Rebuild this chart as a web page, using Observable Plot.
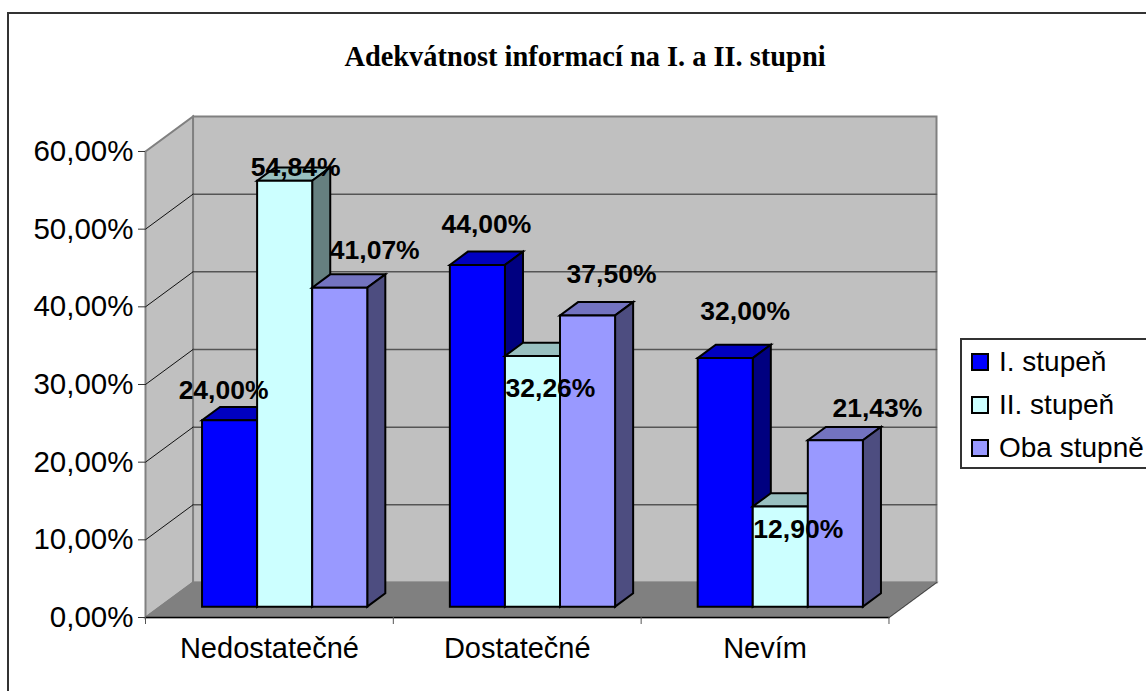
<!DOCTYPE html>
<html lang="cs">
<head>
<meta charset="utf-8">
<script src="https://cdn.jsdelivr.net/npm/d3@7"></script>
<script src="https://cdn.jsdelivr.net/npm/@observablehq/plot@0.6"></script>
<style>
html,body{margin:0;padding:0;background:#fff;overflow:hidden}
#page{position:relative;width:1146px;height:691px;overflow:hidden;font-family:"Liberation Sans",Arial,sans-serif;color:#000}
#page svg{position:absolute;left:0;top:0;background:transparent}
#frame{position:absolute;left:7px;top:12px;width:1200px;height:800px;border:2px solid #333;box-sizing:border-box}
#title{position:absolute;left:0;width:1170px;top:41px;text-align:center;font:bold 28.4px "Liberation Serif","Times New Roman",serif;white-space:nowrap}
#legend{position:absolute;left:960px;top:338px;width:300px;height:131px;box-sizing:border-box;border:2px solid #333;background:#fff}
.row{position:absolute;left:37px;font-size:28px;line-height:32px;white-space:nowrap}
.sw{position:absolute;left:-28px;top:7px;width:18px;height:18px;box-sizing:border-box;border:2px solid #000}
</style>
</head>
<body>
<div id="page">
  <div id="frame"></div>
  <div id="title"></div>
  <div id="plot"></div>
  <div id="legend"></div>
</div>
<script>
// ---- data ----
const titleText = "Adekvátnost informací na I. a II. stupni";
const categories = ["Nedostatečné", "Dostatečné", "Nevím"];
const seriesNames = ["I. stupeň", "II. stupeň", "Oba stupně"];
const stupen1 = [24.00, 44.00, 32.00];
const stupen2 = [54.84, 32.26, 12.90];
const obaStupne = [41.07, 37.50, 21.43];
const yTicks = [0, 10, 20, 30, 40, 50, 60];
const fmt = v => v.toFixed(2).replace(".", ",") + "%";

// ---- colours ----
const frontColors = ["#0000FF", "#CCFFFF", "#9999FF"];
const topColors   = ["#0000C0", "#99C0C0", "#7373C0"];
const sideColors  = ["#000080", "#668080", "#4D4D80"];

// ---- oblique projection (expressed in data units) ----
const catPx = 247.67, pctPx = 7.767;       // pixels per category, per percent
const DX = 47.5 / catPx, DY = 35 / pctPx;  // full depth of the box
const barW = 1 / 4.5, gap = 0.75 * barW + 0.5 / catPx;   // gap width 150 %
const d0 = 0.31, d1 = 0.69;                // bar depth span
const P = (x, v, d) => ({x: x + d * DX, y: v + d * DY});
const poly = (pts, o) => Plot.line(pts, {x: "x", y: "y", curve: "linear-closed", strokeLinejoin: "miter", strokeMiterlimit: 4, ...o});
const seg = (pts, o) => Plot.line(pts, {x: "x", y: "y", curve: "linear", ...o});

const marks = [];
const wallEdge = {stroke: "#808080", strokeWidth: 2};
// walls and floor
marks.push(poly([P(0,0,1),P(3,0,1),P(3,60,1),P(0,60,1)], {fill: "#C0C0C0", ...wallEdge}));
marks.push(poly([P(0,0,0),P(0,0,1),P(0,60,1),P(0,60,0)], {fill: "#C0C0C0", ...wallEdge}));
marks.push(poly([P(0,0,0),P(3,0,0),P(3,0,1),P(0,0,1)], {fill: "#808080", stroke: "#808080"}));
// gridlines
for (const t of yTicks.slice(1, -1)) {
  marks.push(seg([P(0,t,1),P(3,t,1)], {stroke: "#555", strokeWidth: 1.5}));
  marks.push(seg([P(0,t,0),P(0,t,1)], {stroke: "#111", strokeWidth: 1}));
}
marks.push(seg([P(0,0,0),P(3,0,0)], {stroke: "#000", strokeWidth: 1.5}));
marks.push(seg([P(3,0,0),P(3,0,1)], {stroke: "#444", strokeWidth: 1}));

// bars
const series = [stupen1, stupen2, obaStupne];
categories.forEach((c, i) => {
  series.forEach((vals, s) => {
    const v = vals[i], a = i + gap + s * barW, b = a + barW;
    const edge = {stroke: "#000", strokeWidth: 2};
    marks.push(poly([P(a,v,d0),P(b,v,d0),P(b,v,d1),P(a,v,d1)], {fill: topColors[s], ...edge}));
    marks.push(poly([P(b,0,d0),P(b,0,d1),P(b,v,d1),P(b,v,d0)], {fill: sideColors[s], ...edge}));
    marks.push(poly([P(a,0,d0),P(b,0,d0),P(b,v,d0),P(a,v,d0)], {fill: frontColors[s], ...edge}));
  });
});

// value labels, nudged in pixels from the top of each bar's front face
const labelNudgeX = [[-6, 11, 35], [9, 18, 24], [20, 18, 42]];
const labelNudgeY = [[-30, -13, -37], [-40, 32, -41], [-47, 23, -32]];
const labels = categories.flatMap((c, i) => series.map((vals, s) => {
  const p = P(i + gap + (s + 0.5) * barW + labelNudgeX[i][s] / catPx, vals[i] - labelNudgeY[i][s] / pctPx, d0);
  return {...p, text: fmt(vals[i])};
}));
marks.push(Plot.text(labels, {x: "x", y: "y", text: "text", fontSize: 26.5, fontWeight: "bold", fill: "#000", textAnchor: "middle", lineAnchor: "middle"}));

// axes on the front plane
marks.push(Plot.axisY({ticks: yTicks, tickFormat: fmt, tickSize: 7, tickPadding: 5, fontSize: 29.5, label: null, anchor: "left", stroke: "#333"}));
marks.push(Plot.axisX({ticks: [0, 1, 2, 3], tickFormat: () => "", tickSize: 7, label: null, anchor: "bottom", stroke: "#555"}));
marks.push(Plot.text(categories, {x: (d, i) => i + 0.5, y: 0, text: d => d, dy: 31, fontSize: 29, fill: "#000", lineAnchor: "middle"}));

const chart = Plot.plot({
  width: 1146, height: 691,
  marginLeft: 145, marginRight: 210, marginTop: 116, marginBottom: 74,
  style: {fontFamily: '"Liberation Sans", Arial, sans-serif', background: "transparent", overflow: "visible"},
  x: {type: "linear", domain: [0, 3 + DX]},
  y: {type: "linear", domain: [0, 60 + DY]},
  marks
});
document.getElementById("plot").append(chart);
document.getElementById("title").textContent = titleText;
const legend = document.getElementById("legend");
seriesNames.forEach((n, s) => {
  const r = document.createElement("div");
  r.className = "row"; r.style.top = (6 + s * 43) + "px"; r.textContent = n;
  const w = document.createElement("span");
  w.className = "sw"; w.style.background = frontColors[s];
  r.append(w); legend.append(r);
});
</script>
</body>
</html>
